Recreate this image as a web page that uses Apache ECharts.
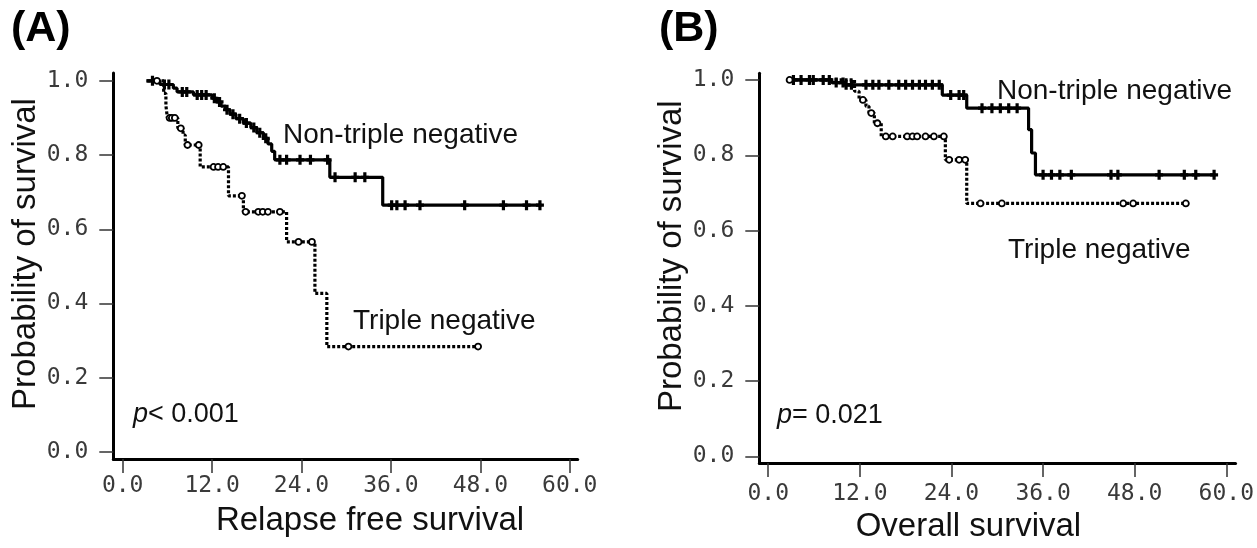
<!DOCTYPE html>
<html>
<head>
<meta charset="utf-8">
<script src="https://cdn.jsdelivr.net/npm/echarts@6/dist/echarts.min.js"></script>
<style>
html,body{margin:0;padding:0;background:#fff;}
#chart{width:1257px;height:548px;}
</style>
</head>
<body>
<div id="chart"></div>
<script>
// ---------- Data ----------
// Tick labels
const xTicks = [0, 12, 24, 36, 48, 60];
const yTicks = [0, 0.2, 0.4, 0.6, 0.8, 1.0];

// (A) Relapse free survival – Non-triple negative (event times / survival after event)
const rfsNonTimes = [3.2, 5.0, 6.8, 7.3, 9.5, 12.0, 12.6, 13.2, 13.8, 14.4, 15.2, 16.2, 17.2, 18.0, 18.9, 19.5, 20.0, 20.4, 27.8, 34.9, 56.2];
const rfsNonSurv  = [1.0, 0.99, 0.98, 0.97, 0.962, 0.953, 0.943, 0.932, 0.922, 0.91, 0.898, 0.886, 0.874, 0.86, 0.845, 0.83, 0.81, 0.787, 0.74, 0.665, 0.665];
const rfsNonCens  = [4.0, 5.6, 6.2, 8.0, 8.6, 10.0, 10.6, 11.2, 12.3, 13.0, 14.0, 14.8, 15.7, 16.6, 17.6, 18.4, 19.2, 21.1, 22.0, 23.8, 25.2, 27.5, 28.5, 31.2, 32.5, 36.1, 36.8, 37.9, 39.9, 45.9, 51.1, 54.2, 56.0];

// (A) Relapse free survival – Triple negative
const rfsTnTimes = [3.2, 5.5, 5.8, 6.0, 7.4, 8.1, 8.4, 10.4, 14.2, 16.2, 22.0, 25.8, 27.4, 47.7];
const rfsTnSurv  = [1.0, 0.966, 0.933, 0.90, 0.872, 0.854, 0.827, 0.768, 0.69, 0.647, 0.566, 0.427, 0.284, 0.284];
const rfsTnCens  = [4.6, 6.3, 6.6, 7.0, 7.8, 8.7, 10.2, 12.2, 12.8, 13.5, 16.0, 16.5, 18.2, 18.8, 19.5, 21.1, 23.6, 25.4, 30.3, 47.7];

// (B) Overall survival – Non-triple negative
const osNonTimes = [2.8, 8.3, 10.0, 22.8, 26.0, 34.1, 34.5, 35.0, 58.6];
const osNonSurv  = [1.0, 0.993, 0.987, 0.96, 0.925, 0.868, 0.806, 0.748, 0.748];
const osNonCens  = [3.3, 4.3, 5.4, 5.9, 7.2, 8.0, 8.9, 9.8, 10.2, 10.9, 12.8, 13.7, 14.5, 15.8, 17.1, 18.0, 18.9, 19.8, 20.6, 21.5, 22.4, 23.9, 25.0, 25.6, 28.0, 29.3, 30.4, 31.5, 32.6, 36.0, 37.1, 38.2, 39.7, 44.9, 45.8, 51.2, 54.5, 56.0, 58.4];

// (B) Overall survival – Triple negative
const osTnTimes = [2.8, 11.3, 11.9, 12.8, 13.2, 13.9, 14.8, 23.2, 26.0, 54.7];
const osTnSurv  = [1.0, 0.97, 0.947, 0.93, 0.912, 0.885, 0.85, 0.788, 0.672, 0.672];
const osTnCens  = [2.8, 12.4, 13.5, 14.3, 15.4, 16.3, 18.2, 18.9, 19.5, 20.6, 21.7, 23.0, 23.7, 25.0, 25.8, 27.8, 30.6, 46.5, 47.8, 54.7];

// ---------- Helpers ----------
function pairs(t, s) { return t.map((v, i) => [v, s[i]]); }
function survAt(times, surv, t) {
  let v = surv[0];
  for (let i = 0; i < times.length; i++) { if (times[i] <= t) v = surv[i]; }
  return v;
}
function censPts(cens, times, surv) { return cens.map(t => [t, survAt(times, surv, t)]); }

const TICK_FONT = { fontFamily: 'DejaVu Sans Mono', fontSize: 23, color: '#3a3a3a' };
const PLUS = 'path://M-1.6,-5h3.2v3.4h2.4v3.2h-2.4v3.4h-3.2v-3.4h-2.4v-3.2h2.4z';

function xAxisCfg(idx, name, xmin, xmax, margin, pad) {
  return {
    type: 'value', gridIndex: idx, min: xmin, max: xmax,
    name: name, nameLocation: 'middle', nameGap: 45,
    nameTextStyle: { fontFamily: 'Liberation Sans', fontSize: 33, color: '#111', padding: pad },
    axisLine: { onZero: false, lineStyle: { color: '#000', width: 3 } },
    axisTick: { show: true, length: 14, customValues: xTicks, lineStyle: { color: '#333', width: 1.5 } },
    axisLabel: Object.assign({ customValues: xTicks, margin: margin, formatter: v => v.toFixed(1) }, TICK_FONT),
    splitLine: { show: false }
  };
}
function yAxisCfg(idx, ymin, ymax, pad) {
  return {
    type: 'value', gridIndex: idx, min: ymin, max: ymax,
    name: 'Probability of survival', nameLocation: 'middle', nameGap: 71,
    nameTextStyle: { fontFamily: 'Liberation Sans', fontSize: 33, color: '#111', padding: pad },
    axisLine: { onZero: false, lineStyle: { color: '#000', width: 3 } },
    axisTick: { show: true, length: 14, customValues: yTicks, lineStyle: { color: '#333', width: 1.5 } },
    axisLabel: Object.assign({ customValues: yTicks, margin: 25, formatter: v => v.toFixed(1) }, TICK_FONT),
    splitLine: { show: false }
  };
}
function curve(idx, times, surv, dotted) {
  return {
    type: 'line', xAxisIndex: idx, yAxisIndex: idx, step: 'end',
    data: pairs(times, surv), showSymbol: false, symbol: 'none', silent: true,
    lineStyle: { color: '#000', width: 3.2, type: dotted ? [3, 2] : 'solid' },
    z: 2
  };
}
function censors(idx, cens, times, surv, open) {
  return {
    type: 'scatter', xAxisIndex: idx, yAxisIndex: idx,
    data: censPts(cens, times, surv), silent: true,
    symbol: open ? 'circle' : PLUS, symbolSize: open ? 6 : [8, 10],
    itemStyle: open ? { color: '#fff', borderColor: '#000', borderWidth: 1.8, opacity: 1 } : { color: '#000', opacity: 1 },
    z: 3
  };
}

const labelFont = { fontFamily: 'Liberation Sans', fontSize: 28, fill: '#111' };
function txt(x, y, text, extra) {
  return { type: 'text', left: x, top: y, style: Object.assign({ text: text }, labelFont, extra || {}) };
}

const chart = echarts.init(document.getElementById('chart'), null, { renderer: 'canvas' });
chart.setOption({
  backgroundColor: '#fff',
  animation: false,
  grid: [
    { left: 113.3, top: 73, width: 464.4, height: 386 },
    { left: 759.3, top: 73.3, width: 479, height: 391 }
  ],
  xAxis: [
    xAxisCfg(0, 'Relapse free survival', -1.26, 61.07, 16, [0, 0, 0, 49]),
    xAxisCfg(1, 'Overall survival', -1.17, 61.21, 19, [0, 58, 0, 0])
  ],
  yAxis: [
    yAxisCfg(0, -0.019, 1.021, [0, 0, 0, 24]),
    yAxisCfg(1, -0.0175, 1.0177, [0, 0, 0, 24])
  ],
  series: [
    curve(0, rfsNonTimes, rfsNonSurv, false),
    curve(0, rfsTnTimes, rfsTnSurv, true),
    censors(0, rfsNonCens, rfsNonTimes, rfsNonSurv, false),
    censors(0, rfsTnCens, rfsTnTimes, rfsTnSurv, true),
    curve(1, osNonTimes, osNonSurv, false),
    curve(1, osTnTimes, osTnSurv, true),
    censors(1, osNonCens, osNonTimes, osNonSurv, false),
    censors(1, osTnCens, osTnTimes, osTnSurv, true)
  ],
  graphic: [
    { type: 'text', left: 11, top: 8, style: { text: '(A)', fontFamily: 'Liberation Sans', fontWeight: 'bold', fontSize: 43, fill: '#000' } },
    { type: 'text', left: 659, top: 8, style: { text: '(B)', fontFamily: 'Liberation Sans', fontWeight: 'bold', fontSize: 43, fill: '#000' } },
    txt(283, 121, 'Non-triple negative'),
    txt(353, 307, 'Triple negative'),
    txt(997, 77, 'Non-triple negative'),
    txt(1008, 236, 'Triple negative'),
    { type: 'text', left: 133, top: 401, style: { text: '{i|p}< 0.001', fontFamily: 'Liberation Sans', fontSize: 27, fill: '#111', rich: { i: { fontStyle: 'italic', fontFamily: 'Liberation Sans', fontSize: 27, fill: '#111' } } } },
    { type: 'text', left: 777, top: 402, style: { text: '{i|p}= 0.021', fontFamily: 'Liberation Sans', fontSize: 27, fill: '#111', rich: { i: { fontStyle: 'italic', fontFamily: 'Liberation Sans', fontSize: 27, fill: '#111' } } } }
  ]
});
</script>
</body>
</html>
